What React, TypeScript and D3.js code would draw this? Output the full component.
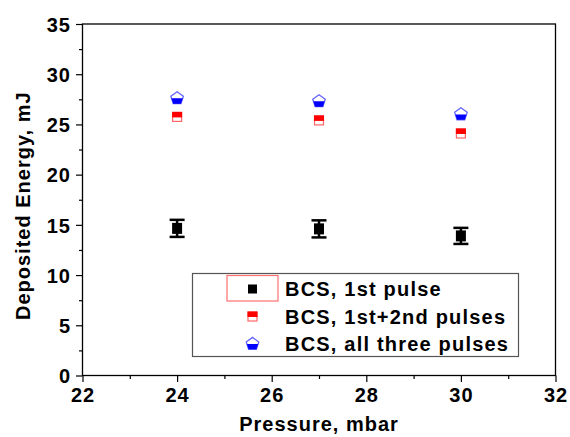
import React, { useEffect, useRef } from 'react';
import * as d3 from 'd3';

// pressure (mbar)
const pressure = [24, 27, 30];
// deposited energy (mJ)
const firstPulse = [14.65, 14.6, 13.9];
const firstPulseErr = [0.85, 0.85, 0.8];
const firstTwoPulses = [25.75, 25.4, 24.1];
const allThreePulses = [27.6, 27.3, 26.0];

const xTicks = [22, 24, 26, 28, 30, 32];
const yTicks = [0, 5, 10, 15, 20, 25, 30, 35];

const legendLabels = ['BCS, 1st pulse', 'BCS, 1st+2nd pulses', 'BCS, all three pulses'];

const W = 570;
const H = 437;
const margin = { left: 82.5, right: 14.5, top: 24, bottom: 61.5 };
const FONT = '"Liberation Sans", Arial, sans-serif';

const pentagon = (r: number) =>
  d3.range(5).map(i => {
    const a = (i * 2 * Math.PI) / 5;
    return [r * Math.sin(a), -r * Math.cos(a)];
  });

const Square = ({ cx, cy }: { cx: number; cy: number }) => (
  <rect x={cx - 5} y={cy - 5.5} width={10} height={11} fill="#000" />
);

const HalfSquare = ({ cx, cy }: { cx: number; cy: number }) => (
  <g>
    <rect x={cx - 4.5} y={cy - 4.5} width={9} height={9} fill="#fff" stroke="#ff6666" strokeWidth={1.2} />
    <rect x={cx - 5} y={cy - 5} width={10} height={5.5} fill="#ff0000" />
  </g>
);

const HalfPentagon = ({ cx, cy }: { cx: number; cy: number }) => {
  const r = 6.6;
  const pts = pentagon(r);
  const outline = d3.line()(pts as [number, number][]) + 'Z';
  const k = 0.851 * r;
  const lower: [number, number][] = [[-k, 0], [k, 0], pts[2] as [number, number], pts[3] as [number, number]];
  return (
    <g transform={`translate(${cx},${cy})`}>
      <path d={outline} fill="#fff" stroke="#6666ff" strokeWidth={1.3} />
      <path d={d3.line()(lower) + 'Z'} fill="#0000ff" />
    </g>
  );
};

const App = () => {
  const xAxisRef = useRef<SVGGElement>(null);
  const yAxisRef = useRef<SVGGElement>(null);

  const x = d3.scaleLinear().domain([22, 32]).range([margin.left, W - margin.right]);
  const y = d3.scaleLinear().domain([0, 35]).range([H - margin.bottom, margin.top]);

  useEffect(() => {
    const xa = d3.select(xAxisRef.current);
    xa.selectAll('*').remove();
    // minor ticks
    xa.call(
      d3.axisBottom(x).tickValues(d3.range(23, 32, 2)).tickSize(3.5).tickFormat(() => '')
    );
    xa.append('g').call(
      d3.axisBottom(x).tickValues(xTicks).tickSize(6.5).tickPadding(6).tickFormat(d3.format('d'))
    );
    xa.selectAll('.domain').remove();
    xa.selectAll('line').attr('stroke', '#000').attr('stroke-width', 1.2);
    xa.selectAll('text')
      .attr('font-family', FONT)
      .attr('font-weight', 'bold')
      .attr('font-size', 20)
      .attr('letter-spacing', 1)
      .attr('fill', '#000');

    const ya = d3.select(yAxisRef.current);
    ya.selectAll('*').remove();
    ya.call(
      d3.axisLeft(y).tickValues(d3.range(2.5, 35, 5)).tickSize(3.5).tickFormat(() => '')
    );
    ya.append('g').call(
      d3.axisLeft(y).tickValues(yTicks).tickSize(6.5).tickPadding(5).tickFormat(d3.format('d'))
    );
    ya.selectAll('.domain').remove();
    ya.selectAll('line').attr('stroke', '#000').attr('stroke-width', 1.2);
    ya.selectAll('text')
      .attr('font-family', FONT)
      .attr('font-weight', 'bold')
      .attr('font-size', 20)
      .attr('letter-spacing', 1)
      .attr('dy', '0.36em')
      .attr('fill', '#000');
  }, []);

  const plotW = W - margin.left - margin.right;
  const plotH = H - margin.top - margin.bottom;

  const lg = { x: 192.5, y: 273.5, w: 326, h: 83 };
  const rowY = [289, 316.5, 344];
  const mx = 252.5;

  return (
    <svg width={W} height={H} style={{ position: 'absolute', left: 0, top: 0 }}>
      <rect width={W} height={H} fill="#fff" />
      <rect
        x={margin.left}
        y={margin.top}
        width={plotW}
        height={plotH}
        fill="none"
        stroke="#000"
        strokeWidth={1.3}
      />
      <g ref={xAxisRef} transform={`translate(0,${H - margin.bottom})`} />
      <g ref={yAxisRef} transform={`translate(${margin.left},0)`} />

      {/* error bars + squares for 1st pulse */}
      {pressure.map((p, i) => {
        const cx = x(p);
        const top = y(firstPulse[i] + firstPulseErr[i]);
        const bot = y(firstPulse[i] - firstPulseErr[i]);
        return (
          <g key={'e' + i} stroke="#000" strokeWidth={2.5}>
            <line x1={cx} x2={cx} y1={top} y2={bot} />
            <line x1={cx - 7.5} x2={cx + 7.5} y1={top} y2={top} />
            <line x1={cx - 7.5} x2={cx + 7.5} y1={bot} y2={bot} />
          </g>
        );
      })}
      {pressure.map((p, i) => (
        <Square key={'s' + i} cx={x(p)} cy={y(firstPulse[i])} />
      ))}
      {pressure.map((p, i) => (
        <HalfSquare key={'r' + i} cx={x(p)} cy={y(firstTwoPulses[i])} />
      ))}
      {pressure.map((p, i) => (
        <HalfPentagon key={'b' + i} cx={x(p)} cy={y(allThreePulses[i])} />
      ))}

      {/* legend */}
      <rect x={lg.x} y={lg.y} width={lg.w} height={lg.h} fill="#fff" stroke="#555" strokeWidth={1.2} />
      <rect x={227} y={275.5} width={51} height={25.5} fill="none" stroke="#ff7070" strokeWidth={1.2} />
      <rect x={mx - 4.5} y={rowY[0] - 4.5} width={9} height={9} fill="#000" />
      <HalfSquare cx={mx} cy={rowY[1]} />
      <HalfPentagon cx={mx} cy={rowY[2]} />
      {legendLabels.map((t, i) => (
        <text
          key={t}
          x={285}
          y={rowY[i]}
          dy="0.36em"
          fontFamily={FONT}
          fontWeight="bold"
          fontSize={20}
          letterSpacing={1.2}
          fill="#000"
        >
          {t}
        </text>
      ))}

      {/* axis titles */}
      <text
        x={(margin.left + W - margin.right) / 2}
        y={431}
        textAnchor="middle"
        fontFamily={FONT}
        fontWeight="bold"
        fontSize={20}
        letterSpacing={1}
        fill="#000"
      >
        Pressure, mbar
      </text>
      <text
        transform={`translate(29.5,${(margin.top + H - margin.bottom) / 2 + 6}) rotate(-90)`}
        textAnchor="middle"
        fontFamily={FONT}
        fontWeight="bold"
        fontSize={20}
        letterSpacing={1}
        fill="#000"
      >
        Deposited Energy, mJ
      </text>
    </svg>
  );
};

export default App;
